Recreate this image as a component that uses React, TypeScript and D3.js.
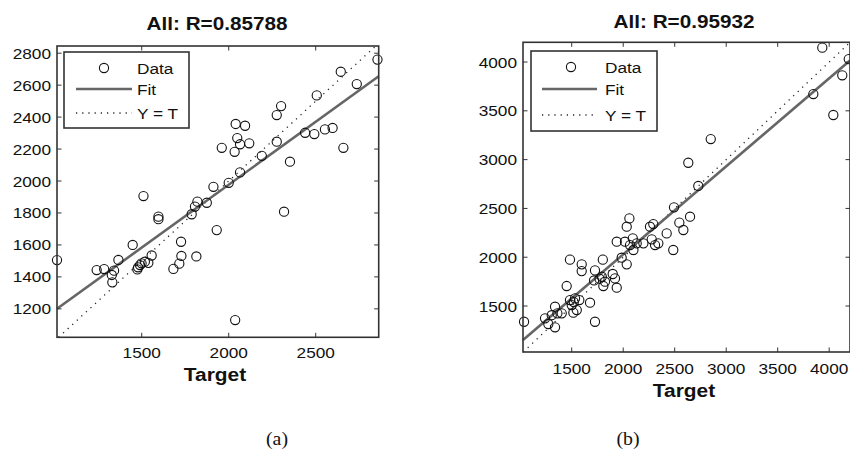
import React from "react";
import * as d3 from "d3";

// ---------- data ----------
const leftTargets = [1013,1241,1284,1341,1328,1331,1366,1448,1475,1479,1490,1499,1518,1538,1557,1510,1596,1596,1682,1716,1728,1726,1814,1787,1806,1820,1874,1931,1912,2000,2065,1960,2040,2094,2049,2034,2065,2118,2190,2276,2276,2301,2352,2439,2492,2553,2597,2659,2506,2644,2736,2855,2318,2037];
const leftOutputs = [1505,1443,1449,1439,1412,1366,1506,1600,1447,1460,1474,1485,1495,1488,1534,1906,1777,1761,1450,1483,1531,1620,1528,1792,1840,1871,1864,1693,1964,1989,2054,2208,2357,2346,2269,2183,2230,2236,2158,2246,2413,2469,2121,2302,2294,2323,2332,2208,2536,2684,2607,2760,1808,1130];

const rightTargets = [1037,1241,1273,1306,1338,1338,1361,1403,1451,1483,1500,1516,1532,1549,1574,1678,1726,1483,1597,1597,1726,1717,1802,1792,1823,1807,1898,1920,1937,1985,2034,1937,2017,2034,2060,2093,2099,2066,2131,2196,2260,2292,2277,2309,2341,2422,2486,2493,2545,2584,2649,2632,2729,2850,3846,4040,4127,3933,4190,1520,1770];
const rightOutputs = [1339,1374,1316,1406,1493,1282,1425,1425,1705,1561,1510,1432,1578,1459,1561,1534,1339,1975,1927,1858,1865,1762,1975,1800,1749,1705,1828,1783,1688,1995,1927,2159,2159,2313,2398,2193,2074,2125,2142,2142,2313,2340,2183,2125,2142,2244,2074,2511,2354,2279,2415,2968,2730,3211,3672,3457,3864,4147,4030,1540,1780];

const leftXTicks = [1500, 2000, 2500];
const leftYTicks = [1200, 1400, 1600, 1800, 2000, 2200, 2400, 2600, 2800];
const rightXTicks = [1500, 2000, 2500, 3000, 3500, 4000];
const rightYTicks = [1500, 2000, 2500, 3000, 3500, 4000];

const leftXDomain = [1013, 2862];
const leftYDomain = [1022, 2845];
const rightXDomain = [1027, 4202];
const rightYDomain = [1029, 4202];

// fit: [slope, intercept]
const leftFit = [0.787, 403];
const rightFit = [0.902, 225];

const titles = ["All: R=0.85788", "All: R=0.95932"];
const xLabel = "Target";
const legendLabels = ["Data", "Fit", "Y = T"];
const captions = ["(a)", "(b)"];

const FONT = "'Liberation Sans', Arial, Helvetica, sans-serif";
const SX = 1.15;

function SText({ x, y, anchor = "middle", size, bold = false, children, family = FONT, sx = SX }: any) {
  return (
    <text
      transform={`translate(${x},${y}) scale(${sx},1)`}
      textAnchor={anchor}
      fontSize={size}
      fontWeight={bold ? "bold" : "normal"}
      fontFamily={family}
      fill="#111"
    >
      {children}
    </text>
  );
}

function Panel({ box, xDomain, yDomain, xTicks, yTicks, tx, ty, fit, title, titleX, titleY, labelX, labelY, xTickY, legend }: any) {
  const x = d3.scaleLinear().domain(xDomain).range([box.x0, box.x1]);
  const y = d3.scaleLinear().domain(yDomain).range([box.y1, box.y0]);
  const lo = Math.max(xDomain[0], yDomain[0]);
  const hi = Math.min(xDomain[1], yDomain[1]);
  const line = d3.line<number[]>().x(d => x(d[0])).y(d => y(d[1]));
  // fit clipped to box
  let f0 = xDomain[0], f1 = xDomain[1];
  const fy = (t: number) => fit[0] * t + fit[1];
  if (fy(f1) > yDomain[1]) f1 = (yDomain[1] - fit[1]) / fit[0];
  if (fy(f0) < yDomain[0]) f0 = (yDomain[0] - fit[1]) / fit[0];
  const fitPath = line([[f0, fy(f0)], [f1, fy(f1)]]) as string;
  const idPath = line([[lo, lo], [hi, hi]]) as string;
  const TL = 4.5;
  const L = legend;
  return (
    <g>
      <rect x={box.x0} y={box.y0} width={box.x1 - box.x0} height={box.y1 - box.y0} fill="white" />
      <path d={idPath} stroke="#222" strokeWidth={1.3} strokeDasharray="1.2,5" fill="none" />
      <path d={fitPath} stroke="#666" strokeWidth={2.6} fill="none" />
      {tx.map((t: number, i: number) => (
        <circle key={i} cx={x(t)} cy={y(ty[i])} r={4.6} fill="none" stroke="#111" strokeWidth={1.1} />
      ))}
      {/* ticks */}
      {xTicks.map((t: number) => (
        <g key={"xt" + t}>
          <line x1={x(t)} x2={x(t)} y1={box.y1} y2={box.y1 - TL} stroke="#333" strokeWidth={1} />
          <line x1={x(t)} x2={x(t)} y1={box.y0} y2={box.y0 + TL} stroke="#333" strokeWidth={1} />
          <SText x={x(t)} y={xTickY} size={15}>{t}</SText>
        </g>
      ))}
      {yTicks.map((t: number) => (
        <g key={"yt" + t}>
          <line x1={box.x0} x2={box.x0 + TL} y1={y(t)} y2={y(t)} stroke="#333" strokeWidth={1} />
          <line x1={box.x1} x2={box.x1 - TL} y1={y(t)} y2={y(t)} stroke="#333" strokeWidth={1} />
          <SText x={box.x0 - 6} y={y(t) + 5.5} size={15} anchor="end">{t}</SText>
        </g>
      ))}
      <rect x={box.x0} y={box.y0} width={box.x1 - box.x0} height={box.y1 - box.y0} fill="none" stroke="#333" strokeWidth={1.6} />
      {/* legend */}
      <rect x={L.x} y={L.y} width={L.w} height={L.h} fill="white" stroke="#333" strokeWidth={1.6} />
      <circle cx={L.x + L.mx} cy={L.y + L.r[0]} r={4.6} fill="none" stroke="#111" strokeWidth={1.1} />
      <line x1={L.x + L.l0} x2={L.x + L.l1} y1={L.y + L.r[1]} y2={L.y + L.r[1]} stroke="#666" strokeWidth={2.6} />
      <line x1={L.x + L.l0} x2={L.x + L.l1} y1={L.y + L.r[2]} y2={L.y + L.r[2]} stroke="#222" strokeWidth={1.3} strokeDasharray="1.2,5" />
      {legendLabels.map((s, i) => (
        <SText key={s} x={L.x + L.tx} y={L.y + L.r[i] + 5.5} size={15} anchor="start">{s}</SText>
      ))}
      <SText x={titleX} y={titleY} size={18} bold>{title}</SText>
      <SText x={labelX} y={labelY} size={19} bold sx={1.1}>{xLabel}</SText>
    </g>
  );
}

export default function App() {
  return (
    <svg width={850} height={451} style={{ position: "absolute", left: 0, top: 0, background: "white" }}>
      <rect x={0} y={0} width={850} height={451} fill="white" />
      <Panel
        box={{ x0: 57, x1: 378.7, y0: 46, y1: 337.3 }}
        xDomain={leftXDomain} yDomain={leftYDomain}
        xTicks={leftXTicks} yTicks={leftYTicks}
        tx={leftTargets} ty={leftOutputs} fit={leftFit}
        title={titles[0]} titleX={217} titleY={30}
        labelX={215} labelY={381} xTickY={358}
        legend={{ x: 64, y: 52, w: 125, h: 76, mx: 40, l0: 12, l1: 68, tx: 73, r: [16, 37, 61] }}
      />
      <Panel
        box={{ x0: 523, x1: 850, y0: 42.3, y1: 352 }}
        xDomain={rightXDomain} yDomain={rightYDomain}
        xTicks={rightXTicks} yTicks={rightYTicks}
        tx={rightTargets} ty={rightOutputs} fit={rightFit}
        title={titles[1]} titleX={684} titleY={27.5}
        labelX={684} labelY={397} xTickY={374}
        legend={{ x: 531, y: 51, w: 126, h: 80, mx: 40, l0: 11, l1: 66, tx: 74, r: [16, 38, 64] }}
      />
      <SText x={277} y={445} size={18} family="'Liberation Serif', 'Times New Roman', serif" sx={1.1}>{captions[0]}</SText>
      <SText x={628} y={445} size={18} family="'Liberation Serif', 'Times New Roman', serif" sx={1.1}>{captions[1]}</SText>
    </svg>
  );
}
